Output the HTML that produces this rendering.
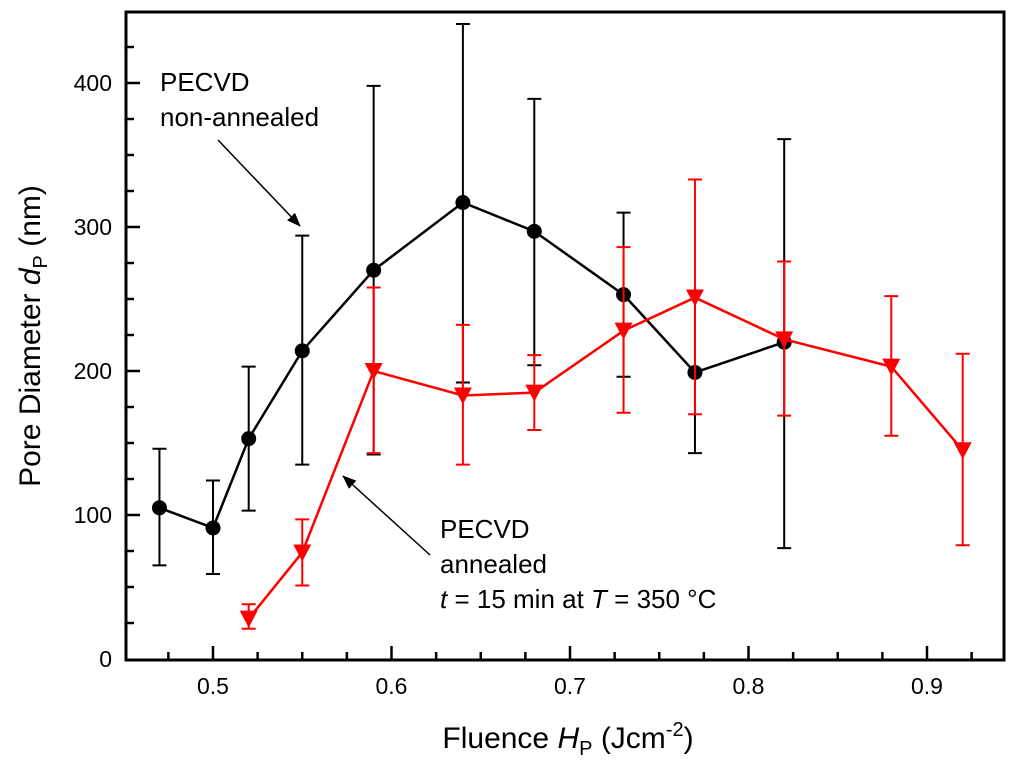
<!DOCTYPE html>
<html><head><meta charset="utf-8"><style>
body{margin:0;background:#fff;}
svg text{font-family:"Liberation Sans",sans-serif;}
</style></head><body>
<svg id="chart" width="1024" height="763" xmlns="http://www.w3.org/2000/svg">
<defs>
<marker id="ah" markerWidth="14" markerHeight="11" refX="13" refY="5.5" orient="auto" markerUnits="userSpaceOnUse"><path d="M0,0 L14,5.5 L0,11 Z" fill="#000"/></marker>
</defs>
<rect x="126" y="12" width="878" height="648" fill="none" stroke="#000" stroke-width="3"/>
<g id="axes"></g>
<g id="series"></g>
<text x="160" y="91" font-size="26">PECVD</text>
<text x="160" y="126" font-size="26">non-annealed</text>
<line x1="218" y1="140" x2="300" y2="226" stroke="#000" stroke-width="1.5" marker-end="url(#ah)"/>
<text x="440" y="538" font-size="26">PECVD</text>
<text x="440" y="573" font-size="26">annealed</text>
<text x="440" y="608" font-size="26"><tspan font-style="italic">t</tspan> = 15 min at <tspan font-style="italic">T</tspan> = 350 °C</text>
<line x1="430" y1="555" x2="343" y2="476" stroke="#000" stroke-width="1.5" marker-end="url(#ah)"/>
<text x="568" y="748" font-size="30" text-anchor="middle">Fluence <tspan font-style="italic">H</tspan><tspan font-size="20" dy="7">P</tspan><tspan dy="-7"> (Jcm</tspan><tspan font-size="20" dy="-12">-2</tspan><tspan dy="12">)</tspan></text>
<text transform="translate(40,336) rotate(-90)" font-size="30" text-anchor="middle">Pore Diameter <tspan font-style="italic">d</tspan><tspan font-size="20" dy="7">P</tspan><tspan dy="-7"> (nm)</tspan></text>
</svg>
<script>
const xTicks=[0.5,0.6,0.7,0.8,0.9];
const yTicks=[0,100,200,300,400];
const blackX=[0.47,0.5,0.52,0.55,0.59,0.64,0.68,0.73,0.77,0.82];
const blackY=[105,91,153,214,270,317,297,253,199,220];
const blackHi=[146,124,203,294,398,441,389,310,255,361];
const blackLo=[65,59,103,135,142,192,204,196,143,77];
const redX=[0.52,0.55,0.59,0.64,0.68,0.73,0.77,0.82,0.88,0.92];
const redY=[28,74,200,183,185,228,251,222,203,145];
const redHi=[38,97,258,232,211,286,333,276,252,212];
const redLo=[21,51,143,135,159,171,170,169,155,79];
const NS='http://www.w3.org/2000/svg';
const sx=v=>213+(v-0.5)*1785;
const sy=v=>659-v*1.44;
function mk(t,a,p){const e=document.createElementNS(NS,t);for(const k in a)e.setAttribute(k,a[k]);p.appendChild(e);return e;}
const ax=document.getElementById('axes');
for(let k=0;k<=22;k++){
  const v=0.45+k*0.025;const x=sx(v);
  if(x<=127||x>=1003)continue;
  const major=Math.abs(v*10-Math.round(v*10))<1e-6;
  const l=mk('line',{x1:x,x2:x,y1:660,y2:major?646:652,stroke:'#000','stroke-width':2.5},ax);
  
  
}
for(let v=25;v<450;v+=25){
  const major=v%100===0;
  const l=mk('line',{x1:126,x2:major?140:134,y1:sy(v),y2:sy(v),stroke:'#000','stroke-width':2.5},ax);
  
  
}
xTicks.forEach(t=>{
  const tx=mk('text',{x:sx(t),y:694,'font-size':23,'text-anchor':'middle'},ax);tx.textContent=t.toFixed(1);
  
  
});
yTicks.forEach(t=>{
  const tx=mk('text',{x:112,y:sy(t)+8,'font-size':23,'text-anchor':'end'},ax);tx.textContent=t;
  
  
});
const sg=document.getElementById('series');
function series(X,Y,H,L,col,name,tri){
  const g=mk('g',{},sg);
  
  
  X.forEach((x,i)=>{
    const e=mk('path',{d:`M${sx(x)},${sy(H[i])}V${sy(L[i])}M${sx(x)-7},${sy(H[i])}h14M${sx(x)-7},${sy(L[i])}h14`,stroke:col,'stroke-width':2,fill:'none'},g);
    
    
  });
  const ln=mk('polyline',{points:X.map((x,i)=>sx(x)+','+sy(Y[i])).join(' '),fill:'none',stroke:col,'stroke-width':2.5},g);
  
  
  X.forEach((x,i)=>{
    const cx=sx(x),cy=sy(Y[i]);
    const p=tri?mk('path',{d:`M${cx-9},${cy-8}H${cx+9}L${cx},${cy+9}Z`,fill:col},g):mk('circle',{cx:cx,cy:cy,r:7.5,fill:col},g);
    
    
  });
}
series(blackX,blackY,blackHi,blackLo,'#000','series-non-annealed',false);
series(redX,redY,redHi,redLo,'#f00','series-annealed',true);
</script>
</body></html>
